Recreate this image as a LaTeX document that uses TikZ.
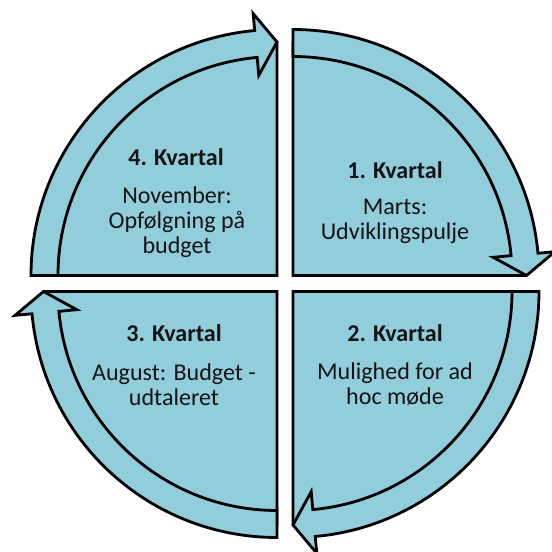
\documentclass[tikz,border=0pt]{standalone}
\usepackage{fontspec}
\setmainfont{Carlito}
\usepackage{xcolor}
\usepackage{tikz}
\usetikzlibrary{positioning}
\definecolor{quarterblue}{HTML}{92CDDC}
\definecolor{textgrey}{HTML}{141414}

\begin{document}
\begin{tikzpicture}[x=0.02cm, y=0.02cm,
    segment/.style={fill=quarterblue, draw=black, line width=1.6pt, line join=miter},
    headline/.style={font=\fontsize{13.7}{14.2}\selectfont\bfseries, text=textgrey, inner sep=0pt},
    bodytext/.style={font=\fontsize{13.7}{14.2}\selectfont, text=textgrey, align=center, inner sep=0pt}]
    \useasboundingbox (-285,-268.5) rectangle (267,283.5);
    \foreach \rot in {0,-90,-180,-270} {
        \begin{scope}[rotate=\rot, shift={(8,8)}]
            \draw [segment] (0,0) -- (0,232.5) arc [start angle=90, end angle=0, radius=232.5] -- cycle;
            \draw [segment] (90:246) arc [start angle=90, end angle=5.2, radius=246] -- (5.2:263) -- (0:233.5) -- (5.2:201) -- (5.2:219) arc [start angle=5.2, end angle=90, radius=219] -- cycle;
        \end{scope}
    }
    \node [headline] (q1) at (110,113.5) {1. Kvartal};
    \node [bodytext] (q1text) at (110,62) {Marts:\\Udviklingspulje};
    \node [headline] (q2) at (110,-49.5) {2. Kvartal};
    \node [bodytext] (q2text) at (110,-101) {Mulighed for ad\\hoc møde};
    \node [headline] (q3) at (-111,-49.5) {3. Kvartal};
    \node [bodytext] (q3text) at (-111,-101) {August: Budget -\\udtaleret};
    \node [headline] (q4) at (-109,126.5) {4. Kvartal};
    \node [bodytext] (q4text) at (-108,61) {November:\\Opfølgning på\\budget};
\end{tikzpicture}
\end{document}
